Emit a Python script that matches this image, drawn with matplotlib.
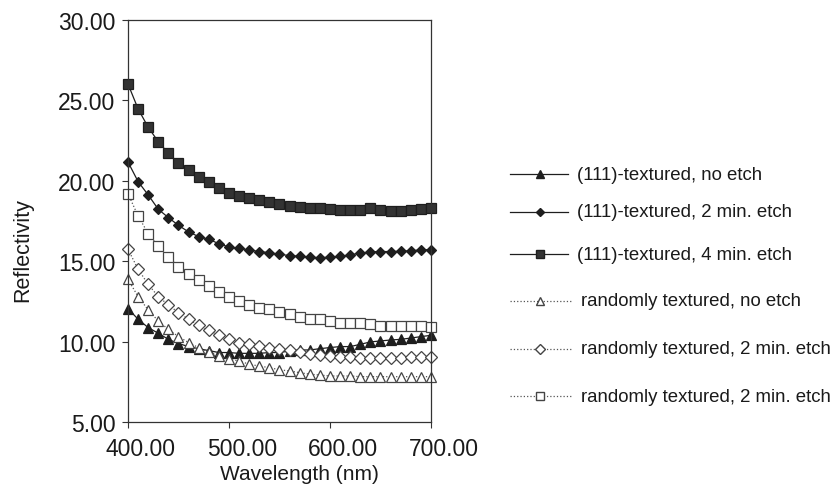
import matplotlib
matplotlib.use("Agg")
import matplotlib.pyplot as plt
from matplotlib.lines import Line2D
from matplotlib.transforms import ScaledTranslation
from matplotlib.ticker import FormatStrFormatter

plt.rcParams['font.family'] = ['Liberation Sans', 'DejaVu Sans']

# wavelength grid (nm)
wavelength = list(range(400, 701, 10))

# (111)-textured samples
tex_no_etch = [12.05, 11.39, 10.87, 10.52, 10.14, 9.88, 9.69, 9.56, 9.44, 9.32,
               9.32, 9.27, 9.27, 9.27, 9.32, 9.32, 9.42, 9.48, 9.48, 9.56,
               9.63, 9.69, 9.69, 9.83, 9.98, 10.04, 10.10, 10.14, 10.22, 10.31, 10.39]
tex_2min = [21.17, 19.95, 19.12, 18.23, 17.71, 17.23, 16.82, 16.53, 16.36, 16.09,
            15.88, 15.80, 15.70, 15.60, 15.53, 15.43, 15.35, 15.30, 15.25, 15.22,
            15.25, 15.30, 15.40, 15.50, 15.58, 15.60, 15.60, 15.62, 15.65, 15.70, 15.72]
tex_4min = [26.02, 24.47, 23.33, 22.43, 21.71, 21.11, 20.67, 20.22, 19.90, 19.55,
            19.24, 19.07, 18.93, 18.81, 18.66, 18.58, 18.45, 18.35, 18.31, 18.29,
            18.25, 18.20, 18.20, 18.20, 18.29, 18.20, 18.12, 18.12, 18.18, 18.25, 18.29]

# randomly textured samples
rnd_no_etch = [13.87, 12.80, 11.97, 11.28, 10.76, 10.31, 9.94, 9.62, 9.35, 9.10,
               8.90, 8.80, 8.59, 8.48, 8.38, 8.25, 8.17, 8.07, 7.97, 7.92,
               7.86, 7.86, 7.86, 7.82, 7.82, 7.82, 7.82, 7.82, 7.82, 7.82, 7.82]
rnd_2min = [15.74, 14.50, 13.56, 12.80, 12.28, 11.80, 11.39, 11.01, 10.70, 10.39,
            10.14, 9.94, 9.83, 9.73, 9.63, 9.57, 9.45, 9.35, 9.25, 9.15,
            9.10, 9.05, 9.05, 9.00, 9.00, 9.00, 9.00, 9.00, 9.02, 9.05, 9.05]
rnd_2min_b = [19.20, 17.81, 16.72, 15.95, 15.29, 14.63, 14.20, 13.80, 13.46, 13.11,
              12.80, 12.53, 12.28, 12.11, 12.00, 11.84, 11.70, 11.55, 11.39, 11.39,
              11.28, 11.14, 11.14, 11.14, 11.08, 10.97, 10.97, 10.95, 10.95, 10.95, 10.90]

labels = ['(111)-textured, no etch', '(111)-textured, 2 min. etch',
          '(111)-textured, 4 min. etch', 'randomly textured, no etch',
          'randomly textured, 2 min. etch', 'randomly textured, 2 min. etch']

ink = '#1e1e1e'
styles = [
    dict(ls='-', marker='^', ms=7, mfc=ink, mec=ink, lw=0.9),
    dict(ls='-', marker='D', ms=5.5, mfc=ink, mec=ink, lw=0.9),
    dict(ls='-', marker='s', ms=7, mfc='#333333', mec=ink, lw=0.9),
    dict(ls=':', marker='^', ms=7.5, mfc='white', mec='#444444', lw=0.9),
    dict(ls=':', marker='D', ms=6.5, mfc='white', mec='#444444', lw=0.9),
    dict(ls=':', marker='s', ms=7.5, mfc='white', mec='#444444', lw=0.9),
]
series = [tex_no_etch, tex_2min, tex_4min, rnd_no_etch, rnd_2min, rnd_2min_b]

fig = plt.figure(figsize=(8.36, 4.89), dpi=100)
W, H = 836, 489
ax = fig.add_axes([128 / W, 1 - 423 / H, (431 - 128) / W, (423 - 21) / H])

for vals, st in zip(series, styles):
    ax.plot(wavelength, vals, color=ink if st['ls'] == '-' else '#555555',
            linestyle=st['ls'], linewidth=st['lw'], marker=st['marker'],
            markersize=st['ms'], markerfacecolor=st['mfc'],
            markeredgecolor=st['mec'], markeredgewidth=0.9, clip_on=False)

ax.set_xlim(400, 700)
ax.set_ylim(5, 30)
ax.set_xticks([400, 500, 600, 700])
ax.set_yticks([5, 10, 15, 20, 25, 30])
ax.xaxis.set_major_formatter(FormatStrFormatter('%.2f'))
ax.yaxis.set_major_formatter(FormatStrFormatter('%.2f'))
ax.tick_params(axis='both', direction='out', length=4, width=0.8,
               colors='#333333', labelcolor='#1a1a1a', labelsize=16.5)
ax.tick_params(axis='y', pad=5)
ax.tick_params(axis='x', pad=7)
for sp in ax.spines.values():
    sp.set_color('#333333')
    sp.set_linewidth(0.9)

# scanned figure: x tick labels sit a little right of their ticks
shift = ScaledTranslation(13 / 100, 0, fig.dpi_scale_trans)
for lab in ax.get_xticklabels():
    lab.set_transform(lab.get_transform() + shift)

ax.set_xlabel('Wavelength (nm)', fontsize=15, color='#1a1a1a')
ax.xaxis.set_label_coords((299 - 128) / 303, (423 - 465) / 402)
ax.set_ylabel('Reflectivity', fontsize=15.5, color='#1a1a1a')
ax.yaxis.set_label_coords((33 - 128) / 303, (423 - 250) / 402)

# hand-placed legend to the right of the plot
leg_y = [175, 213, 255, 302, 350, 397]
for lab, st, y in zip(labels, styles, leg_y):
    yf = 1 - y / H
    solid = st['ls'] == '-'
    x0, x1 = 510 / W, (568 if solid else 572) / W
    xm = 540 / W
    h = Line2D([x0, xm, x1], [yf, yf, yf], transform=fig.transFigure,
               color=ink if solid else '#555555',
               linestyle=st['ls'], linewidth=st['lw'], marker=st['marker'],
               markersize=st['ms'] * 0.75, markerfacecolor=st['mfc'],
               markeredgecolor=st['mec'], markevery=[1])
    fig.add_artist(h)
    fig.text((577 if solid else 581) / W, yf, lab, fontsize=13.4,
             va='center', ha='left', color='#1a1a1a')

fig.savefig('out.png', dpi=100)
